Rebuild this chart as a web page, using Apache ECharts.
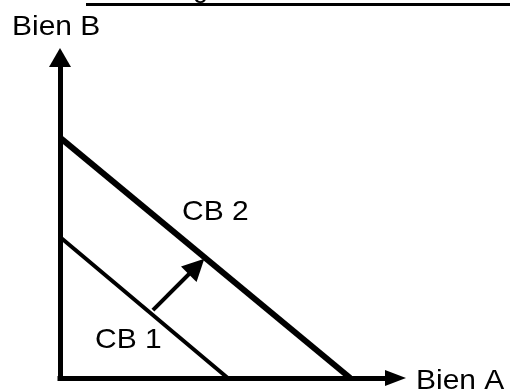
<!DOCTYPE html>
<html>
<head>
<meta charset="utf-8">
<script src="https://cdn.jsdelivr.net/npm/echarts@6/dist/echarts.min.js"></script>
<style>html,body{margin:0;padding:0;background:#fff;}#c{width:510px;height:391px;}</style>
</head>
<body>
<div id="c"></div>
<script>
// Budget lines (x = Bien A, y = Bien B), in axis units 0..100
var cb1 = [[0, 44], [50, 0]];
var cb2 = [[0, 75], [86.5, 0]];
// Shift arrow: tail on CB1, head pointing to CB2
var shiftArrow = [[27.7, 21.2], [40.7, 34.8]];
var axisNames = ['Bien A', 'Bien B'];
var lineNames = ['CB 1', 'CB 2'];

var chart = echarts.init(document.getElementById('c'), null, {renderer: 'canvas'});
var FAM = 'Liberation Sans';
var txt = function (x, y, s) {
  return {type: 'text', left: x, top: y, scaleX: 1.07,
    style: {text: s, fontSize: 28, fontFamily: FAM, fill: '#000'}};
};
chart.setOption({
  animation: false,
  backgroundColor: '#fff',
  grid: {left: 60, right: 114.5, top: 57.5, bottom: 13},
  xAxis: {
    type: 'value', min: 0, max: 100,
    axisLine: {onZero: false, symbol: ['none', 'triangle'], symbolSize: [16, 21],
      lineStyle: {color: '#000', width: 5, cap: 'square'}},
    axisTick: {show: false}, axisLabel: {show: false}, splitLine: {show: false}
  },
  yAxis: {
    type: 'value', min: 0, max: 100,
    axisLine: {onZero: false, symbol: ['none', 'triangle'], symbolSize: [22, 19],
      lineStyle: {color: '#000', width: 5, cap: 'square'}},
    axisTick: {show: false}, axisLabel: {show: false}, splitLine: {show: false}
  },
  series: [
    {type: 'line', name: lineNames[0], data: cb1, symbol: 'none',
      lineStyle: {color: '#000', width: 4}},
    {type: 'line', name: lineNames[1], data: cb2, symbol: 'none',
      lineStyle: {color: '#000', width: 6}},
    {type: 'lines', coordinateSystem: 'cartesian2d', symbol: ['none', 'triangle'], symbolSize: [17, 22],
      lineStyle: {color: '#000', width: 4, opacity: 1},
      itemStyle: {color: '#000'},
      data: [{coords: shiftArrow}]}
  ],
  graphic: [
    {type: 'line', shape: {x1: 86, y1: 4.5, x2: 510, y2: 4.5}, style: {stroke: '#000', lineWidth: 3}},
    {type: 'text', x: 193, y: 3, style: {text: 'g', fontSize: 27, fontFamily: FAM, fill: '#000', verticalAlign: 'bottom'}},
    txt(12, 13, axisNames[1]),
    txt(416, 367, axisNames[0]),
    txt(182, 198, lineNames[1]),
    txt(95, 326, lineNames[0])
  ]
});
</script>
</body>
</html>
